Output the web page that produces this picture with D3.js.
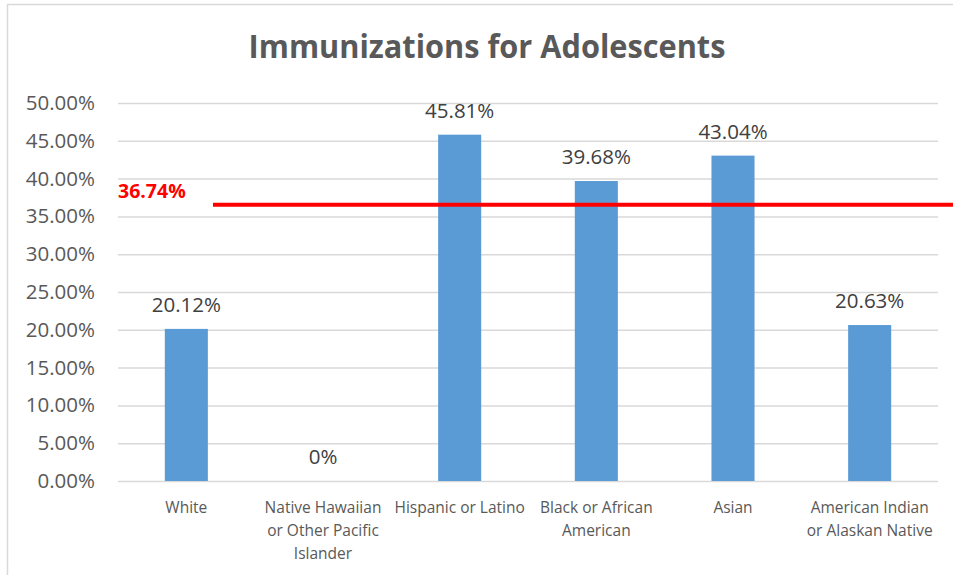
<!DOCTYPE html>
<html><head><meta charset="utf-8">
<script src="https://cdn.jsdelivr.net/npm/d3@7/dist/d3.min.js"></script>
<style>body{margin:0;background:#fff;}svg{display:block;}</style>
</head><body>
<svg id="c" width="953" height="575"></svg>
<script>
const categories = ["White", "Native Hawaiian\nor Other Pacific\nIslander", "Hispanic or Latino", "Black or African\nAmerican", "Asian", "American Indian\nor Alaskan Native"];
const values = [20.12, 0, 45.81, 39.68, 43.04, 20.63];
const valueLabels = ["20.12%", "0%", "45.81%", "39.68%", "43.04%", "20.63%"];
const yTicks = [0, 5, 10, 15, 20, 25, 30, 35, 40, 45, 50];
const targetValue = 36.74;
const targetLabel = "36.74%";
const title = "Immunizations for Adolescents";

const svg = d3.select("#c");
const FONT = "'Open Sans', 'Noto Sans', sans-serif";
const m = {left: 118, right: 938, top: 103, bottom: 481};

svg.append("rect").attr("x", 7.5).attr("y", 4.5).attr("width", 960).attr("height", 600)
  .attr("fill", "#fff").attr("stroke", "#d9d9d9").attr("stroke-width", 1.5);

const x = d3.scaleBand().domain(categories).range([m.left, m.right]).paddingInner(0.685).paddingOuter(0.3425);
const y = d3.scaleLinear().domain([0, 50]).range([m.bottom, m.top]);

// title: keep height, compress width to match reference
const tg = svg.append("g").attr("transform", "translate(487,58)");
const t = tg.append("text").attr("x", 0).attr("y", 0).attr("text-anchor", "middle")
  .attr("font-family", FONT).attr("font-weight", "bold").attr("font-size", 32)
  .attr("fill", "#595959").text(title);
const tw = t.node().getComputedTextLength();
tg.attr("transform", `translate(487,58) scale(${477 / tw},1)`);

// gridlines + y axis
const yAxis = d3.axisLeft(y).tickValues(yTicks).tickSize(-(m.right - m.left)).tickFormat(d => d.toFixed(2) + "%");
const ga = svg.append("g").attr("transform", `translate(${m.left},0)`).call(yAxis);
ga.select(".domain").remove();
ga.selectAll(".tick line").attr("stroke", "#d9d9d9").attr("stroke-width", 1.5);
ga.selectAll(".tick text").attr("x", -23).attr("font-family", FONT).attr("font-size", 20.5).attr("fill", "#595959");

// bars
svg.append("g").selectAll("rect").data(values).join("rect")
  .attr("x", (d, i) => x(categories[i])).attr("width", x.bandwidth())
  .attr("y", d => y(d)).attr("height", d => y(0) - y(d)).attr("fill", "#5b9bd5");

// value labels
svg.append("g").selectAll("text").data(values).join("text")
  .attr("x", (d, i) => x(categories[i]) + x.bandwidth() / 2)
  .attr("y", d => y(d) - 17).attr("text-anchor", "middle")
  .attr("font-family", FONT).attr("font-size", 20.5).attr("fill", "#404040")
  .text((d, i) => valueLabels[i]);

// category labels
const xAxis = d3.axisBottom(x).tickSize(0).tickFormat("");
const gx = svg.append("g").attr("transform", `translate(0,${m.bottom})`).call(xAxis);
gx.select(".domain").remove();
gx.selectAll(".tick").each(function(d) {
  const txt = d3.select(this).append("text").attr("text-anchor", "middle")
    .attr("font-family", FONT).attr("font-size", 15.5).attr("fill", "#595959");
  d.split("\n").forEach((line, k) => {
    txt.append("tspan").attr("x", 0).attr("y", 32 + k * 23).text(line);
  });
});

// target line
svg.append("line").attr("x1", 213).attr("x2", 953).attr("y1", y(targetValue) + 1.5).attr("y2", y(targetValue) + 1.5)
  .attr("stroke", "#ff0000").attr("stroke-width", 4);
svg.append("text").attr("x", 118).attr("y", 198).attr("font-family", FONT).attr("font-weight", "bold")
  .attr("font-size", 19.5).attr("fill", "#ff0000").text(targetLabel);
</script>
</body></html>
